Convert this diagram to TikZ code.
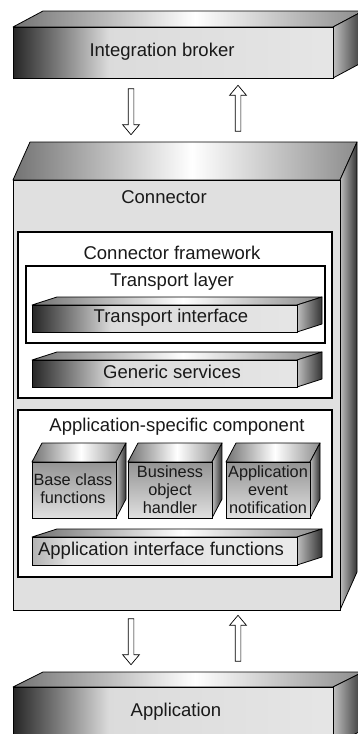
\documentclass[tikz,border=0pt]{standalone}
\usepackage{fontspec}
\setmainfont{Liberation Sans}
\usetikzlibrary{shapes.arrows}
\pgfdeclarehorizontalshading{front-shade}{100bp}{color(0bp)=(black!85); color(25bp)=(black!85); color(40bp)=(black!14); color(75bp)=(black!10); color(100bp)=(black!10)}
\pgfdeclarehorizontalshading{light-shade}{100bp}{color(0bp)=(black!30); color(25bp)=(black!30); color(32bp)=(black!12); color(75bp)=(black!8); color(100bp)=(black!8)}
\pgfdeclarehorizontalshading{top-shade}{100bp}{color(0bp)=(black!55); color(25bp)=(black!55); color(51bp)=(white); color(75bp)=(black!45); color(100bp)=(black!45)}
\pgfdeclarehorizontalshading{side-shade}{100bp}{color(0bp)=(black!25); color(25bp)=(black!25); color(75bp)=(black!80); color(100bp)=(black!80)}
\tikzset{
    top-face/.style = {draw=black, line width=0.8pt, line join=round, shade, shading=top-shade},
    side-face/.style = {draw=black, line width=0.8pt, line join=round, shade, shading=side-shade},
    slab-front/.style = {draw=black, line width=0.9pt, shade, shading=front-shade},
    light-front/.style = {draw=black, line width=0.9pt, shade, shading=light-shade},
    cube-front/.style = {draw=black, line width=0.9pt, top color=black!42, bottom color=black!12},
    plain-front/.style = {draw=black, line width=0.9pt, fill=black!12},
    frame-box/.style = {draw=black, line width=1.2pt, fill=white},
    main-label/.style = {font=\fontsize{18.5}{21}\selectfont, text=black!90, inner sep=0pt},
    cube-label/.style = {font=\fontsize{16.3}{18}\selectfont, text=black!90, inner sep=0pt, align=center},
    hollow-arrow/.style = {single arrow, draw=black, fill=white, line width=0.7pt, inner xsep=0pt, inner ysep=2.5pt,
        minimum height=46pt, single arrow head extend=5.5pt, single arrow tip angle=80},
}
% #1 name, (#2,#3) front top left, (#4,#5) front bottom right, (#6,#7) depth, #8 front style
\newcommand{\block}[8]{%
    \draw[top-face] (#2,#3) -- ++(#6,#7) -- ++(#4-#2,0) -- (#4,#3) -- cycle;
    \draw[side-face] (#4,#3) -- ++(#6,#7) -- ++(0,#5-#3) -- (#4,#5) -- cycle;
    \draw[#8] (#2,#3) rectangle (#4,#5);
    \coordinate (#1) at ({(#2+#4)/2},{(#3+#5)/2});
}

\begin{document}
\begin{tikzpicture}[x=1pt, y=-1pt]
\clip (0,0) rectangle (358,734);

% outer systems
\block{broker}{13}{27}{333}{78}{30}{-16}{slab-front}
\node[main-label] (broker-label) at (162,52) {Integration broker};
\block{app}{13}{687}{333}{745}{30}{-15}{slab-front}
\node[main-label] (app-label) at (176,712) {Application};

% connector
\block{connector}{13}{180}{340}{610}{17}{-38}{plain-front}
\node[main-label] (connector-label) at (164,197) {Connector};

\node[frame-box, minimum width=314pt, minimum height=166pt] (framework) at (175,315) {};
\node[main-label] (framework-label) at (172,253) {Connector framework};
\node[frame-box, minimum width=299pt, minimum height=77pt] (transport-layer) at (175.5,304.5) {};
\node[main-label] (transport-layer-label) at (172,282) {Transport layer};
\block{transport}{32}{305}{297}{332}{25}{-8}{slab-front}
\node[main-label] (transport-label) at (171,318) {Transport interface};
\block{generic}{32}{360}{297}{387}{25}{-8}{slab-front}
\node[main-label] (generic-label) at (172,372) {Generic services};

\node[frame-box, minimum width=314pt, minimum height=167pt] (specific) at (175,493.5) {};
\node[main-label] (specific-label) at (177,427) {Application-specific component};
\block{base}{32}{462}{116}{518}{10}{-19}{cube-front}
\node[cube-label] (base-label) at (73,489) {Base class\\functions};
\block{handler}{128}{462}{212}{518}{10}{-19}{cube-front}
\node[cube-label] (handler-label) at (170,490) {Business\\object\\handler};
\block{notify}{226}{462}{310}{518}{10}{-19}{cube-front}
\node[cube-label] (notify-label) at (268,490) {Application\\event\\notification};
\block{api}{32}{537}{297}{565}{25}{-8}{light-front}
\node[main-label] (api-label) at (161,551) {Application interface functions};

% data flow
\node[hollow-arrow, rotate=-90] (down-top) at (131,110) {};
\node[hollow-arrow, rotate=90] (up-top) at (238,110) {};
\node[hollow-arrow, rotate=-90] (down-bottom) at (131,640) {};
\node[hollow-arrow, rotate=90] (up-bottom) at (238,640) {};
\end{tikzpicture}
\end{document}
